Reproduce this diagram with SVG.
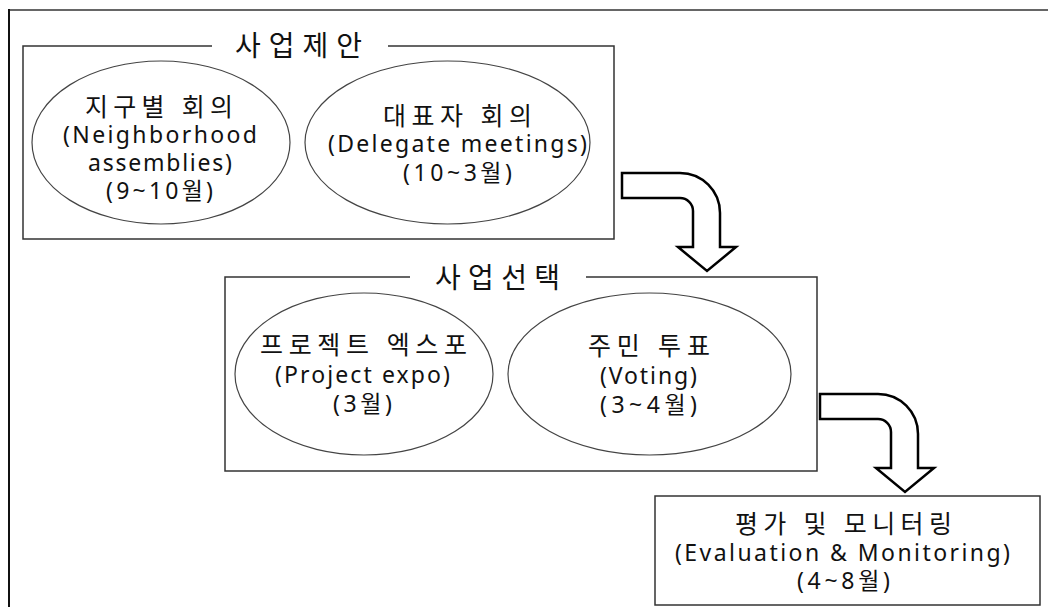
<svg xmlns="http://www.w3.org/2000/svg" width="1048" height="607" viewBox="0 0 1048 607">
  <style>
    text { font-family: "Noto Sans", "Noto Sans CJK KR", sans-serif; fill: #111; font-size: 23px; }
    .k { font-size: 25px; }
    .title { font-size: 28px; }
    .box { fill: none; stroke: #333; stroke-width: 1.5; }
    .oval { fill: #fff; stroke: #444; stroke-width: 1.2; }
    .arrow { fill: #fff; stroke: #000; stroke-width: 2.5; stroke-linejoin: miter; }
  </style>
  <defs>
    <!-- bent block arrow: shaft to the right, then curving down to a head -->
    <path id="bend" d="M0,0 L58,0 A40,40 0 0 1 98,40 L98,74 L114,74 L85,98 L56,74 L71,74 L71,38 A13,13 0 0 0 58,25 L0,25 Z"/>
  </defs>
  <rect width="1048" height="607" fill="#fff"/>

  <!-- page frame -->
  <line x1="9" y1="10" x2="1048" y2="10" stroke="#666" stroke-width="2"/>
  <line x1="9" y1="9" x2="9" y2="607" stroke="#111" stroke-width="2"/>

  <!-- stage 1 -->
  <g id="proposal">
    <path class="box" d="M212,46 H23 V239 H614 V46 H388"/>
    <text class="title" x="235" y="56" textLength="127" lengthAdjust="spacing">사업제안</text>
  </g>
  <g id="neighborhood">
    <ellipse class="oval" cx="161" cy="142.5" rx="129" ry="81.5"/>
    <text>
      <tspan class="k" x="85" y="116" textLength="148" lengthAdjust="spacing">지구별 회의</tspan>
      <tspan x="63" y="143" textLength="194" lengthAdjust="spacing">(Neighborhood</tspan>
      <tspan x="88" y="171" textLength="144" lengthAdjust="spacing">assemblies)</tspan>
      <tspan x="106" y="199" textLength="107" lengthAdjust="spacing">(9~10월)</tspan>
    </text>
  </g>
  <g id="delegate">
    <ellipse class="oval" cx="447.5" cy="142.5" rx="142.5" ry="81.5"/>
    <text>
      <tspan class="k" x="383" y="125" textLength="149" lengthAdjust="spacing">대표자 회의</tspan>
      <tspan x="328" y="152" textLength="259" lengthAdjust="spacing">(Delegate meetings)</tspan>
      <tspan x="403" y="181" textLength="109" lengthAdjust="spacing">(10~3월)</tspan>
    </text>
  </g>

  <!-- stage 2 -->
  <g id="selection">
    <path class="box" d="M410,277 H225 V471 H817 V277 H586"/>
    <text class="title" x="435" y="288" textLength="125" lengthAdjust="spacing">사업선택</text>
  </g>
  <g id="expo">
    <ellipse class="oval" cx="364" cy="374" rx="129" ry="81"/>
    <text>
      <tspan class="k" x="260" y="354" textLength="207" lengthAdjust="spacing">프로젝트 엑스포</tspan>
      <tspan x="275" y="383" textLength="175" lengthAdjust="spacing">(Project expo)</tspan>
      <tspan x="333" y="412" textLength="59" lengthAdjust="spacing">(3월)</tspan>
    </text>
  </g>
  <g id="voting">
    <ellipse class="oval" cx="649.5" cy="374" rx="141.5" ry="81"/>
    <text>
      <tspan class="k" x="588" y="355" textLength="122" lengthAdjust="spacing">주민 투표</tspan>
      <tspan x="600" y="384" textLength="97" lengthAdjust="spacing">(Voting)</tspan>
      <tspan x="600" y="413" textLength="97" lengthAdjust="spacing">(3~4월)</tspan>
    </text>
  </g>

  <!-- stage 3 -->
  <g id="evaluation">
    <rect class="box" x="655" y="496" width="385" height="109"/>
    <text>
      <tspan class="k" x="735" y="533" textLength="217" lengthAdjust="spacing">평가 및 모니터링</tspan>
      <tspan x="675" y="561" textLength="335" lengthAdjust="spacing">(Evaluation &amp; Monitoring)</tspan>
      <tspan x="797" y="589" textLength="93" lengthAdjust="spacing">(4~8월)</tspan>
    </text>
  </g>

  <!-- connectors -->
  <g id="connectors">
    <use href="#bend" class="arrow" x="622" y="173"/>
    <use href="#bend" class="arrow" x="820" y="394"/>
  </g>
</svg>
